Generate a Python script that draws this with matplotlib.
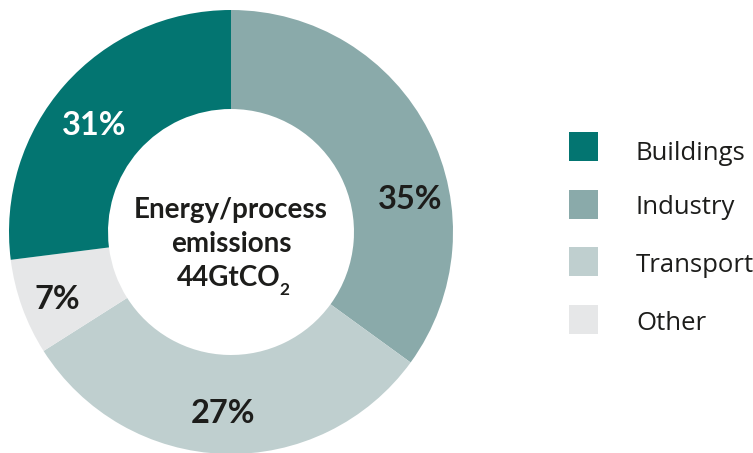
import matplotlib
matplotlib.use("Agg")
import matplotlib.pyplot as plt
import numpy as np
from matplotlib.patches import Rectangle

# ---- data ----
sectors = ["Industry", "Transport", "Other", "Buildings"]      # clockwise from 12 o'clock
shares = [35, 31, 7, 27]                                        # slice sizes as drawn
share_labels = ["35%", "27%", "7%", "31%"]                      # printed labels
legend_order = ["Buildings", "Industry", "Transport", "Other"]
center_lines = ["Energy/process", "emissions", "44GtCO"]
center_sub = "2"

# ---- style ----
colors = {"Buildings": "#037571", "Industry": "#8aaaaa",
          "Transport": "#bfcfcf", "Other": "#e6e7e8"}
label_colors = ["#1d1d1b", "#1d1d1b", "#1d1d1b", "#ffffff"]
label_pos = [(10.4, 0.82), (-92.5, 0.82), (201.3, 0.84), (142.0, 0.78)]  # (angle deg, radius)
text_dark = "#1d1d1b"
legend_dy = [4, 0, 0, 1]

W, H = 753, 453
fig = plt.figure(figsize=(W / 100, H / 100), dpi=100)
fig.patch.set_facecolor("white")

cx, cy, R = 231, 232, 222  # pixel center (from top) and radius
ax = fig.add_axes([(cx - R) / W, (H - cy - R) / H, 2 * R / W, 2 * R / H])
ax.pie(shares, colors=[colors[s] for s in sectors], startangle=90,
       counterclock=False, radius=1.0,
       wedgeprops=dict(width=0.446, edgecolor="none", linewidth=0))
ax.set_xlim(-1, 1)
ax.set_ylim(-1, 1)
ax.set_aspect("equal")
ax.axis("off")

for lab, (ang, r), col in zip(share_labels, label_pos, label_colors):
    a = np.deg2rad(ang)
    ax.text(r * np.cos(a), r * np.sin(a), lab, ha="center", va="center",
            fontsize=23.5, fontweight="bold", family="Lato", color=col)

# center text (baselines in pixels from top)
baselines = [218, 252, 286]
cfs = 20
for line, b in zip(center_lines[:2], baselines[:2]):
    ax.text(0.0, (cy - b) / R, line, ha="center", va="baseline", fontsize=cfs,
            fontweight="bold", family="Lato", color=text_dark)

renderer = fig.canvas.get_renderer()
t_main = ax.text(0.0, (cy - baselines[2]) / R, center_lines[2], ha="right", va="baseline",
                 fontsize=cfs, fontweight="bold", family="Lato", color=text_dark)
t_sub = ax.text(0.0, (cy - baselines[2] - 9) / R, center_sub, ha="left", va="baseline",
                fontsize=cfs * 0.62, fontweight="bold", family="Lato", color=text_dark)
w_main = t_main.get_window_extent(renderer).width
w_sub = t_sub.get_window_extent(renderer).width
x_end = ((w_main - w_sub) / 2 + 3) / R
t_main.set_x(x_end)
t_sub.set_x(x_end - 1 / R)

# ---- legend ----
sq = 29
x0 = 569
top0 = 132
step = 57.6
for i, name in enumerate(legend_order):
    top = top0 + i * step
    fig.patches.append(Rectangle((x0 / W, (H - top - sq) / H), sq / W, sq / H,
                                 transform=fig.transFigure, facecolor=colors[name],
                                 edgecolor="none"))
    base = top + sq / 2 + 10 + legend_dy[i]
    fig.text(636 / W, (H - base) / H, name, ha="left", va="baseline",
             fontsize=18.5, family="Open Sans", color=text_dark)

fig.savefig("out.png", dpi=100, facecolor="white")
